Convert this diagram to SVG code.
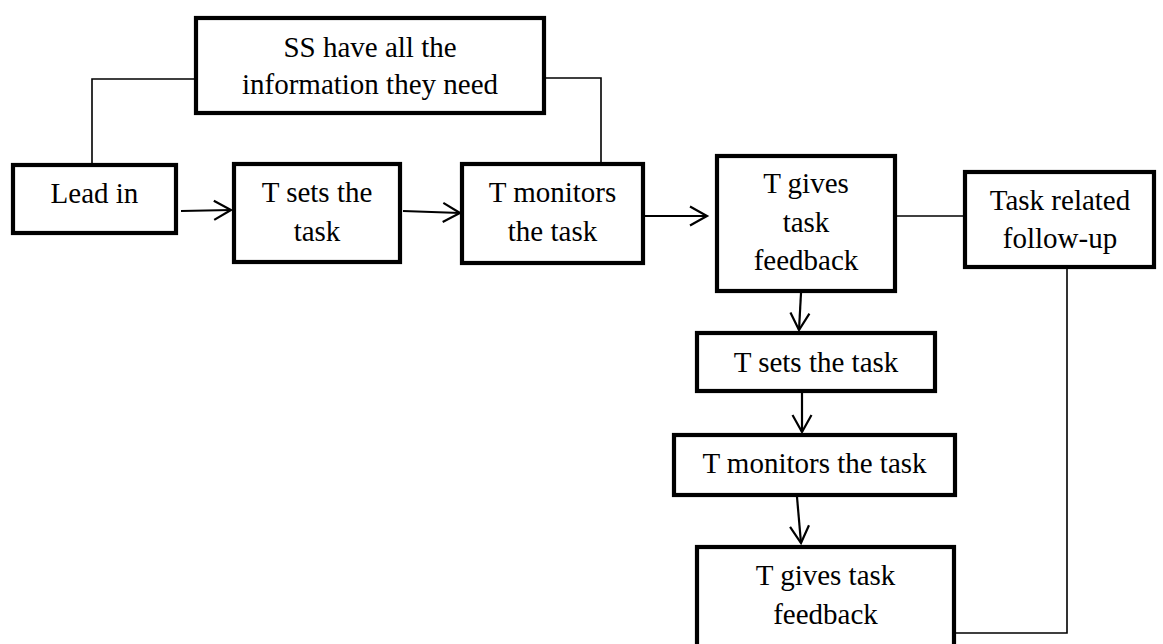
<svg xmlns="http://www.w3.org/2000/svg" width="1163" height="644" viewBox="0 0 1163 644">
<style>
.box{fill:#fff;stroke:#000;stroke-width:4.2}
.t{font-family:'Liberation Serif','Times New Roman',Tinos,'DejaVu Serif',serif;font-size:29px;fill:#000;text-anchor:middle}
.thin{fill:none;stroke:#000;stroke-width:1.6}
.arr{fill:none;stroke:#000;stroke-width:2.2;marker-end:url(#ah)}
</style>
<defs>
<marker id="ah" markerUnits="userSpaceOnUse" orient="auto" refX="0" refY="0" markerWidth="20" markerHeight="20" overflow="visible">
<path d="M-17,-9.5 L0,0 L-17,9.5" fill="none" stroke="#000" stroke-width="2.2"/>
</marker>
</defs>
<rect width="1163" height="644" fill="#fff"/>
<g id="connectors">
<path class="thin" d="M92,163 V79 H194"/>
<path class="thin" d="M546,78 H601 V162"/>
<path class="thin" d="M897,216 H963"/>
<path class="thin" d="M1067,269 V633 H950"/>
<path class="arr" d="M181,211 L231,210"/>
<path class="arr" d="M403,211 L460,213"/>
<path class="arr" d="M645,216 L707,216"/>
<path class="arr" d="M801,293 L799,330"/>
<path class="arr" d="M802,393 L802,432"/>
<path class="arr" d="M797,497 L801,543"/>
</g>
<g id="ss-info">
<rect class="box" x="196" y="18" width="348" height="95"/>
<text class="t" x="370" y="57" font-family="Liberation Serif, serif">SS have all the</text>
<text class="t" x="370" y="94" font-family="Liberation Serif, serif">information they need</text>
</g>
<g id="lead-in">
<rect class="box" x="13" y="165" width="163" height="68"/>
<text class="t" x="94.5" y="203">Lead in</text>
</g>
<g id="t-sets-1">
<rect class="box" x="234" y="164" width="166" height="98"/>
<text class="t" x="317" y="202">T sets the</text>
<text class="t" x="317" y="241">task</text>
</g>
<g id="t-monitors-1">
<rect class="box" x="462" y="164" width="181" height="99"/>
<text class="t" x="552.5" y="202">T monitors</text>
<text class="t" x="552.5" y="241">the task</text>
</g>
<g id="t-gives-1">
<rect class="box" x="717" y="156" width="178" height="135"/>
<text class="t" x="806" y="193">T gives</text>
<text class="t" x="806" y="232">task</text>
<text class="t" x="806" y="270">feedback</text>
</g>
<g id="follow-up">
<rect class="box" x="965" y="172" width="189" height="95"/>
<text class="t" x="1060" y="210">Task related</text>
<text class="t" x="1060" y="248">follow-up</text>
</g>
<g id="t-sets-2">
<rect class="box" x="697" y="333" width="238" height="58"/>
<text class="t" x="816" y="372">T sets the task</text>
</g>
<g id="t-monitors-2">
<rect class="box" x="674" y="435" width="281" height="60"/>
<text class="t" x="814.5" y="473">T monitors the task</text>
</g>
<g id="t-gives-2">
<rect class="box" x="697" y="547" width="257" height="120"/>
<text class="t" x="825.5" y="585">T gives task</text>
<text class="t" x="825.5" y="624">feedback</text>
</g>
</svg>
